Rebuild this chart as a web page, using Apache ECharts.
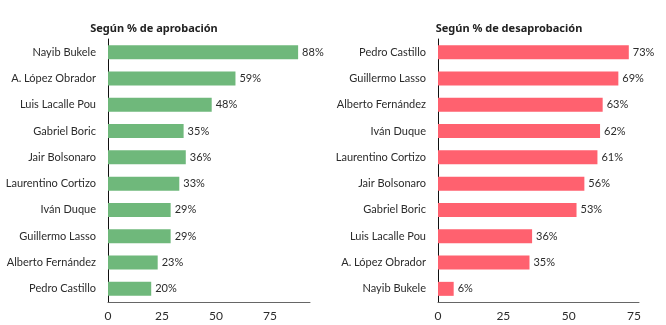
<!DOCTYPE html>
<html>
<head>
<meta charset="utf-8">
<script src="https://cdn.jsdelivr.net/npm/echarts@6/dist/echarts.min.js"></script>
<style>
html,body{margin:0;padding:0;background:#fff;}
#chart{width:666px;height:325px;}
</style>
</head>
<body>
<div id="chart"></div>
<script>
// Approval ranking
const approvalNames = ['Nayib Bukele','A. López Obrador','Luis Lacalle Pou','Gabriel Boric','Jair Bolsonaro','Laurentino Cortizo','Iván Duque','Guillermo Lasso','Alberto Fernández','Pedro Castillo'];
const approvalValues = [88, 59, 48, 35, 36, 33, 29, 29, 23, 20];

// Disapproval ranking
const disapprovalNames = ['Pedro Castillo','Guillermo Lasso','Alberto Fernández','Iván Duque','Laurentino Cortizo','Jair Bolsonaro','Gabriel Boric','Luis Lacalle Pou','A. López Obrador','Nayib Bukele'];
const disapprovalValues = [73, 69, 63, 62, 61, 56, 53, 36, 35, 6];

const titles = ['Según % de aprobación', 'Según % de desaprobación'];
const tickValues = [0, 25, 50, 75];

const FONT = 'Lato, "Open Sans", sans-serif';
const TXT = '#2b2b2b';

const chart = echarts.init(document.getElementById('chart'));

function xAxisFor(idx, max) {
  return {
    gridIndex: idx, type: 'value', min: tickValues[0], max: max, interval: tickValues[1] - tickValues[0],
    splitLine: {show: false},
    axisLine: {show: true, lineStyle: {color: '#666', width: 1}},
    axisTick: {show: false},
    axisLabel: {color: TXT, fontFamily: FONT, fontSize: 12, margin: 8, showMaxLabel: false,
      formatter: v => tickValues.includes(v) ? String(v) : ''}
  };
}
function yAxisFor(idx, names) {
  return {
    gridIndex: idx, type: 'category', data: names, inverse: true,
    axisLine: {show: true, lineStyle: {color: '#111', width: 1}},
    axisTick: {show: false},
    axisLabel: {color: TXT, fontFamily: FONT, fontSize: 11, margin: 12}
  };
}
function barSeries(idx, values, color) {
  return {
    type: 'bar', xAxisIndex: idx, yAxisIndex: idx, data: values,
    barWidth: 14,
    itemStyle: {color: color},
    label: {show: true, position: 'right', distance: 4, formatter: '{c}%',
      color: TXT, fontFamily: FONT, fontSize: 11}
  };
}

const titleStyle = {fontFamily: '"Noto Sans", sans-serif', fontWeight: 'bold', fontSize: 11, color: '#222'};

chart.setOption({
  animation: false,
  title: [
    {text: titles[0], left: 149, top: 18, textAlign: 'center', textStyle: titleStyle},
    {text: titles[1], left: 504, top: 18, textAlign: 'center', textStyle: titleStyle}
  ],
  grid: [
    {left: 108, top: 39, width: 202, height: 263},
    {left: 438, top: 39, width: 201, height: 263}
  ],
  xAxis: [xAxisFor(0, 93.5), xAxisFor(1, 76.9)],
  yAxis: [yAxisFor(0, approvalNames), yAxisFor(1, disapprovalNames)],
  series: [
    barSeries(0, approvalValues, '#6fb87b'),
    barSeries(1, disapprovalValues, '#ff616f')
  ]
});
</script>
</body>
</html>
